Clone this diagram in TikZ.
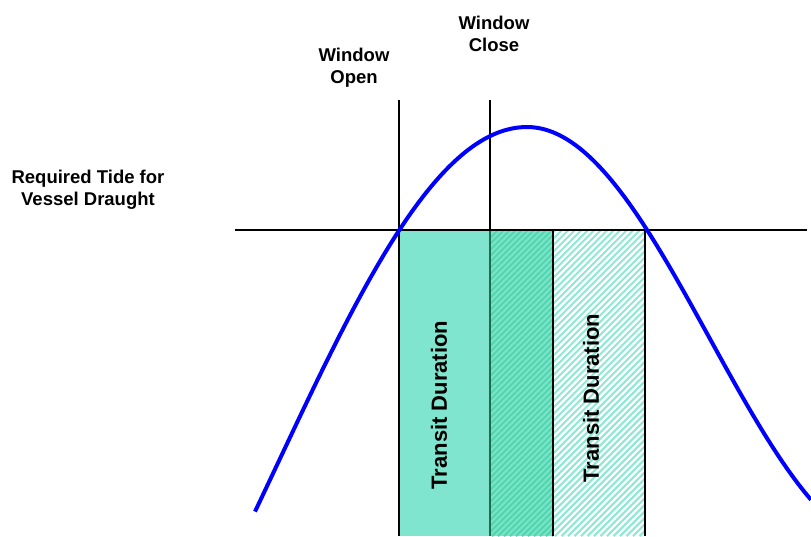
\documentclass[tikz,border=0pt]{standalone}
\usepackage{fontspec}
\setmainfont{Liberation Sans}
\definecolor{tealfill}{HTML}{80E5CE}
\definecolor{tealmid}{HTML}{7EE3C8}
\definecolor{tealstripe}{HTML}{52D6B0}
\definecolor{lightstripe}{HTML}{8FE8D3}
\definecolor{darkedge}{HTML}{1E6B52}
\definecolor{curveblue}{HTML}{0000FF}
\tikzset{
  thinline/.style={line width=1.4pt, black},
  tide/.style={line width=4pt, curveblue, line cap=butt, line join=round},
  lbl/.style={font=\fontsize{18.5}{22}\selectfont\bfseries, align=center, inner sep=0pt},
  dur/.style={font=\fontsize{22}{26}\selectfont\bfseries, rotate=90, inner sep=0pt},
  stripe/.style={line width=2.1pt}
}
\begin{document}
\begin{tikzpicture}[x=1pt,y=-1pt]
\useasboundingbox (0,0) rectangle (811,536);
% rectangle 1
\fill[tealfill] (399,230) rectangle (490,536);
% rectangle 2 (hatched, dark)
\fill[tealmid] (490,230) rectangle (553,536);
\begin{scope}
  \clip (490,230) rectangle (553,536);
  \foreach \i in {180,186,...,560} \draw[stripe, tealstripe] (\i,536) -- ++(320,-320);
\end{scope}
% rectangle 3 (hatched, light)
\begin{scope}
  \clip (553,230) rectangle (645,536);
  \foreach \i in {243,249.5,...,650} \draw[stripe, lightstripe] (\i,536) -- ++(320,-320);
\end{scope}
% borders
\draw[thinline] (399,536) -- (399,100);
\draw[thinline] (490,230) -- (490,100);
\draw[line width=1.4pt, darkedge] (490,230) -- (490,536);
\draw[thinline] (553,230) -- (553,536);
\draw[thinline] (645,230) -- (645,536);
\draw[thinline] (235,230) -- (807,230);
% tide curve
\draw[tide] plot[domain=255:527, samples=80, smooth] (\x, {127+338*(1-cos((\x-527)/500*180))})
  -- plot[domain=527:811, samples=80, smooth] (\x, {127+211*(1-cos((\x-527)/365*180))});
% labels
\node[lbl] (open) at (354,68) {Window\\Open};
\node[lbl] (close) at (494,34) {Window\\Close};
\node[lbl] (req) at (88,190) {Required Tide for\\Vessel Draught};
\node[dur] (d1) at (439,405) {Transit Duration};
\node[dur] (d2) at (591,398) {Transit Duration};
\end{tikzpicture}
\end{document}
